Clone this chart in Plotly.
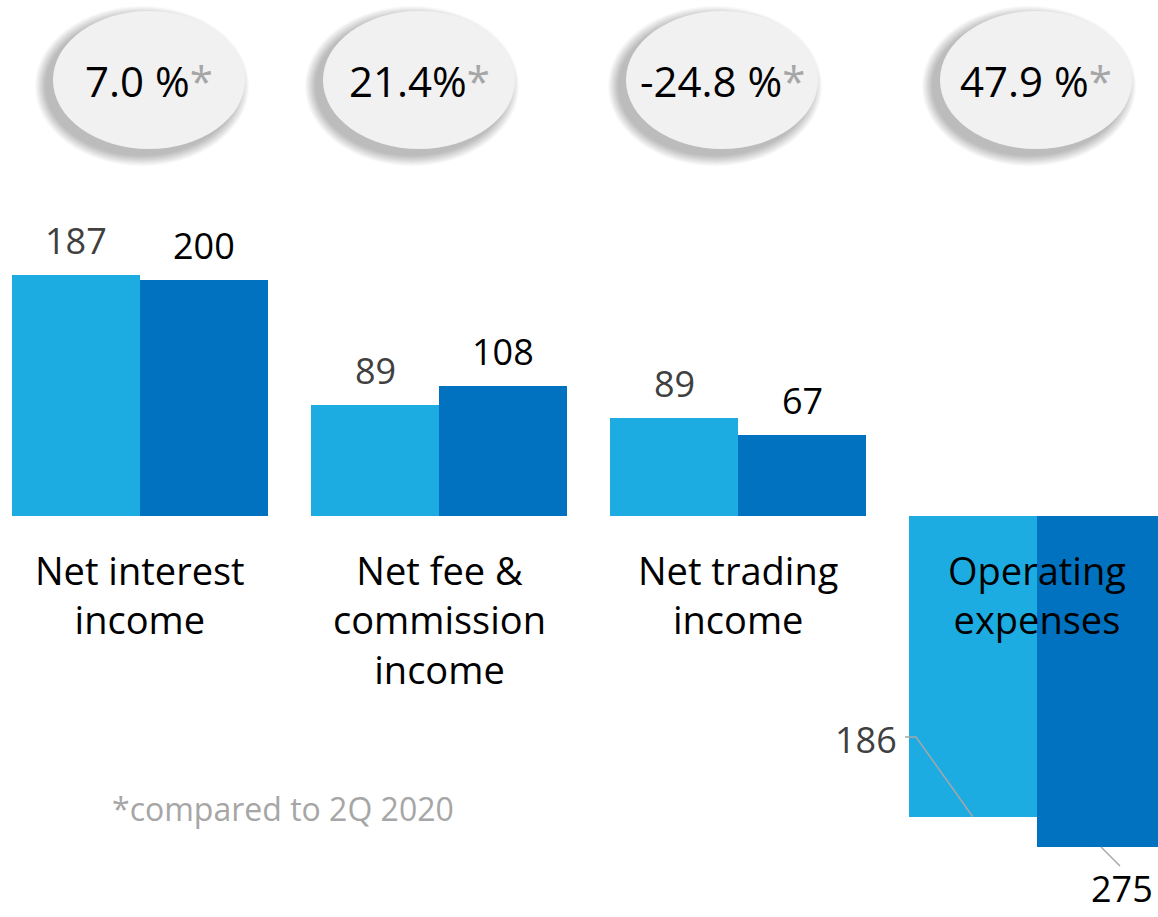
import plotly.graph_objects as go

# ---------------- data ----------------
categories = ["Net interest<br>income", "Net fee &amp;<br>commission<br>income",
              "Net trading<br>income", "Operating<br>expenses"]
change_labels = ["7.0 %", "21.4%", "-24.8 %", "47.9 %"]
values_prev = [187, 89, 89, 186]      # earlier period (light bars)
values_curr = [200, 108, 67, 275]     # current period (dark bars)
# bar lengths as drawn in the picture (expenses drawn downwards)
bar_len_prev = [241, 111, 98, -301]
bar_len_curr = [236, 130, 81, -331]
footnote = "*compared to 2Q 2020"

# ---------------- style ----------------
W, H = 1158, 917
LIGHT, DARK = "#1DACE2", "#0072C0"
GREY = "#A6A6A6"
FONT = "Open Sans"
PX_PER_GROUP = 299.0
FIRST_CENTER_PX = 140.0
BAR_W = 128.0 / PX_PER_GROUP
BASE_PX = 516.0
badge_dx = [9, -20, -16, -1]

xs = list(range(len(categories)))

fig = go.Figure()
fig.add_trace(go.Bar(x=xs, y=bar_len_prev, width=BAR_W, offset=-BAR_W,
                     marker=dict(color=LIGHT, line=dict(width=0)),
                     hoverinfo="skip", showlegend=False))
fig.add_trace(go.Bar(x=xs, y=bar_len_curr, width=BAR_W, offset=0,
                     marker=dict(color=DARK, line=dict(width=0)),
                     hoverinfo="skip", showlegend=False))

ann = []
shapes = []

# value labels
for i in xs:
    if bar_len_prev[i] >= 0:
        ann.append(dict(x=i - BAR_W / 2, y=bar_len_prev[i], text=str(values_prev[i]),
                        showarrow=False, yanchor="middle", yshift=35,
                        font=dict(family=FONT, size=36, color="#404040")))
        ann.append(dict(x=i + BAR_W / 2, y=bar_len_curr[i], text=str(values_curr[i]),
                        showarrow=False, yanchor="middle", yshift=35,
                        font=dict(family=FONT, size=36, color="#000000")))
    else:
        # light bar label with bent leader
        ann.append(dict(x=i - BAR_W / 2, y=bar_len_prev[i], text=str(values_prev[i]),
                        showarrow=False, yanchor="middle", xanchor="center",
                        xshift=-107, yshift=78,
                        font=dict(family=FONT, size=36, color="#404040")))
        shapes.append(dict(type="path", xref="x", yref="y",
                           xsizemode="pixel", ysizemode="pixel",
                           xanchor=i - BAR_W / 2, yanchor=bar_len_prev[i],
                           path="M 0,0 L -57,80 L -68,80",
                           line=dict(color=GREY, width=1.5)))
        ann.append(dict(x=i + BAR_W / 2, y=bar_len_curr[i], text=str(values_curr[i]),
                        showarrow=False, yanchor="middle", xanchor="center",
                        xshift=21, yshift=-41, borderpad=0,
                        font=dict(family=FONT, size=36, color="#000000")))
        shapes.append(dict(type="line", xref="x", yref="y",
                           xsizemode="pixel", ysizemode="pixel",
                           xanchor=i + BAR_W / 2, yanchor=bar_len_curr[i],
                           x0=0, y0=0, x1=19, y1=-19,
                           line=dict(color=GREY, width=1.5)))

# category labels
for i, c in enumerate(categories):
    ann.append(dict(x=i, y=0, text=c, showarrow=False, yanchor="top",
                    yshift=-26, align="center",
                    font=dict(family=FONT, size=38, color="#000000")))

# change badges (ellipses with soft shadow)
N_SH = 14
for i, lab in enumerate(change_labels):
    cx = badge_dx[i]
    # shadow layers
    for k in range(N_SH):
        grow = (N_SH - k) * 0.8
        shapes.append(dict(type="circle", xref="x", yref="paper",
                           xsizemode="pixel", ysizemode="pixel",
                           xanchor=i, yanchor=1,
                           x0=cx - 96 - 7 - grow, x1=cx + 96 - 7 + grow,
                           y0=-149 - 6 - grow, y1=-11 - 6 + grow,
                           fillcolor="rgba(0,0,0,0.02)", line=dict(width=0),
                           layer="above"))
    shapes.append(dict(type="circle", xref="x", yref="paper",
                       xsizemode="pixel", ysizemode="pixel",
                       xanchor=i, yanchor=1,
                       x0=cx - 96, x1=cx + 96, y0=-149, y1=-11,
                       fillcolor="#F1F1F1", line=dict(width=0), layer="above"))
    ann.append(dict(x=i, y=1, xref="x", yref="paper", xshift=cx, yshift=-80,
                    text=lab + '<span style="color:%s">*</span>' % GREY,
                    showarrow=False, xanchor="center", yanchor="middle",
                    font=dict(family=FONT, size=42, color="#000000")))

# footnote
ann.append(dict(x=283 / W, y=1 - 808 / H, xref="paper", yref="paper",
                text=footnote, showarrow=False, xanchor="center", yanchor="middle",
                font=dict(family=FONT, size=32, color=GREY)))

x0 = -FIRST_CENTER_PX / PX_PER_GROUP
x1 = x0 + W / PX_PER_GROUP
fig.update_layout(
    width=W, height=H, margin=dict(l=0, r=0, t=0, b=0),
    paper_bgcolor="white", plot_bgcolor="white",
    barmode="overlay",
    xaxis=dict(range=[x0, x1], visible=False, fixedrange=True),
    yaxis=dict(range=[-(H - BASE_PX), BASE_PX], visible=False, fixedrange=True),
    annotations=ann, shapes=shapes, showlegend=False,
)

fig.write_html("out.html", config={"displayModeBar": False},
               post_script="document.body.style.margin='0';")
